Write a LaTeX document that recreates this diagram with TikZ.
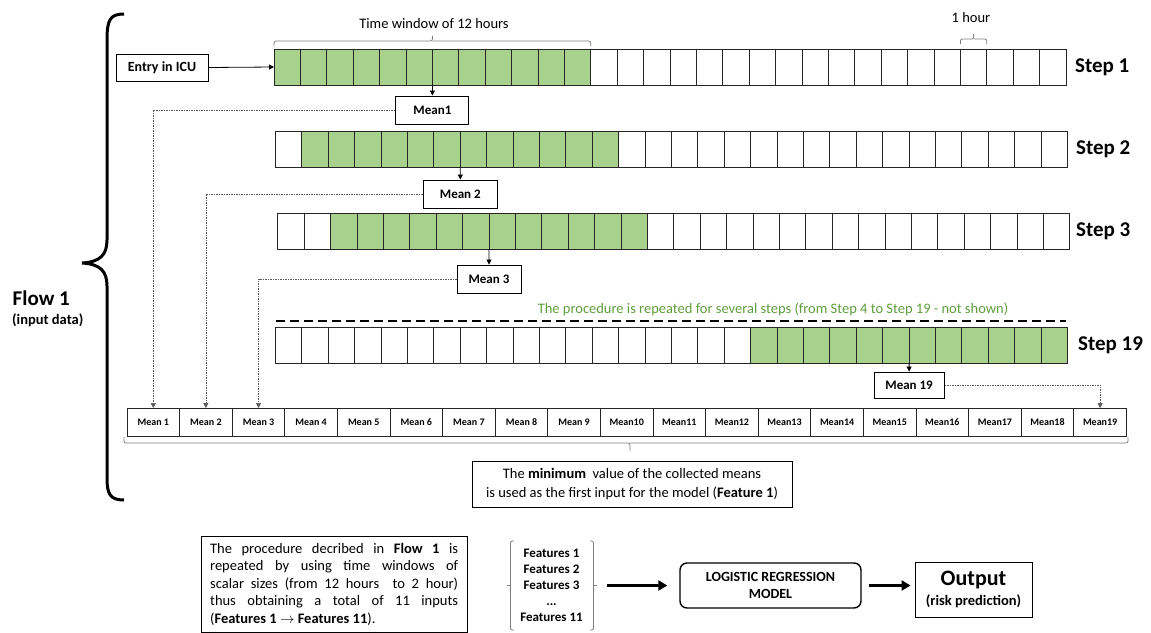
\documentclass[tikz,border=0pt]{standalone}
\usepackage{fontspec}
\setmainfont{Carlito}
\usetikzlibrary{arrows.meta}
\definecolor{gfill}{RGB}{169,209,142}
\definecolor{gtext}{RGB}{96,158,62}
\definecolor{lgray}{RGB}{125,125,125}
\tikzset{
 cellbox/.style={draw=black!85, line width=0.9pt, minimum width=26.4pt, minimum height=36pt, inner sep=0pt, outer sep=0pt},
 meanrow/.style={draw=black!85, line width=0.9pt, minimum width=52.6pt, minimum height=28pt, inner sep=0pt, outer sep=0pt, font=\fontsize{10}{12}\selectfont\bfseries},
 meanbox/.style={draw, line width=0.9pt, minimum height=28pt, inner sep=0pt, font=\fontsize{13}{15}\selectfont\bfseries},
 steplabel/.style={anchor=west, font=\fontsize{21}{25}\selectfont\bfseries, inner sep=0pt},
 tip/.style={-{Triangle[length=5pt,width=5pt]}},
 dotconn/.style={tip, draw=black!65, line width=0.6pt, dash pattern=on 1.5pt off 1pt},
 bigarrow/.style={-{Triangle[length=9pt,width=10pt]}, line width=3pt},
 thinbrace/.style={draw=lgray, line width=0.8pt, rounded corners=2pt},
 txt/.style={font=\fontsize{14.5}{18}\selectfont, inner sep=0pt},
}
\newcommand{\cellrow}[5]{%
  \foreach \i in {0,...,29}{%
    \ifnum\i<#4 \def\fc{white}\else\ifnum\i>#5 \def\fc{white}\else\def\fc{gfill}\fi\fi
    \node[cellbox, fill=\fc] (#1c\i) at ({#2+26.4*\i+13.2},#3) {};
  }}
\begin{document}
\begin{tikzpicture}[x=1pt,y=-1pt]
\fill[white] (0,0) rectangle (1151,632);
\useasboundingbox (0,0) rectangle (1151,632);

% big left brace
\draw[line width=3pt] (124,14) .. controls (110,14) and (107,20) .. (107,40) -- (107,240)
  .. controls (107,255) and (100,262) .. (82,263) .. controls (100,264) and (107,271) .. (107,286)
  -- (107,478) .. controls (107,494) and (110,500) .. (124,500);
\node[anchor=west, font=\fontsize{21}{25}\selectfont\bfseries, inner sep=0pt] (flow) at (12.5,298) {Flow 1};
\node[anchor=west, font=\fontsize{14.5}{17}\selectfont\bfseries, inner sep=0pt] (inp) at (12,320.5) {(input data)};

% rows
\cellrow{sa}{274}{67}{0}{11}
\cellrow{sb}{275.5}{149}{1}{12}
\cellrow{sc}{277.8}{231}{2}{13}
\cellrow{sd}{275.5}{345}{18}{29}

\node[steplabel] (st1) at (1075,67) {Step 1};
\node[steplabel] (st2) at (1076,149) {Step 2};
\node[steplabel] (st3) at (1076,231) {Step 3};
\node[steplabel] (st19) at (1078,345) {Step 19};

% entry
\node[draw, line width=0.9pt, minimum width=92pt, minimum height=27pt, inner sep=0pt,
  font=\fontsize{14}{16}\selectfont\bfseries] (entry) at (162,67.5) {Entry in ICU};
\draw[tip, line width=0.8pt] (entry.east) -- (sac0.west);

% braces top
\draw[thinbrace] (274,46) -- (274,41) -- (432.4,41) -- (432.4,36);
\draw[thinbrace] (432.4,41) -- (590.8,41) -- (590.8,46);
\node[txt] (tw) at (434,24) {Time window of 12 hours};
\draw[thinbrace] (960.4,44) -- (960.4,39) -- (973.6,39) -- (973.6,34);
\draw[thinbrace] (973.6,39) -- (986.8,39) -- (986.8,44);
\node[txt] (oneh) at (971,18) {1 hour};

% mean boxes
\node[meanbox, minimum width=73pt] (m1) at (432.4,110) {Mean1};
\node[meanbox, minimum width=74pt] (m2) at (460.3,194) {Mean 2};
\node[meanbox, minimum width=64pt] (m3) at (489,279) {Mean 3};
\node[meanbox, minimum width=70pt, minimum height=26pt] (m19) at (909.1,385) {Mean 19};
\draw[tip, line width=0.8pt] (sac6.south west) -- (m1.north);
\draw[tip, line width=0.8pt] (sbc7.south west) -- (m2.north);
\draw[tip, line width=0.8pt] (scc8.south west) -- (m3.north);
\draw[tip, line width=0.8pt] (sdc24.south west) -- (m19.north);

% repeated text and dashed line
\node[txt, text=gtext] (rep) at (773,309) {The procedure is repeated for several steps (from Step 4 to Step 19 - not shown)};
\draw[line width=2pt, dash pattern=on 9pt off 5pt] (276,321) -- (1066,321);

% mean row
\foreach \i in {1,...,19}{%
  \node[meanrow] (mr\i) at ({127+52.6*(\i-0.5)},422) {\ifnum\i<10 Mean \i\else Mean\i\fi};
}
\draw[dotconn] (m1.west) -| (mr1.north);
\draw[dotconn] (m2.west) -| (mr2.north);
\draw[dotconn] (m3.west) -| (mr3.north);
\draw[dotconn] (m19.east) -| (mr19.north);

% brace under mean row
\draw[thinbrace] (124,437) -- (124,443) -- (630,443) -- (630,451);
\draw[thinbrace] (630,443) -- (1128,443) -- (1128,437);
\node[draw, line width=0.9pt, minimum width=320pt, minimum height=46pt, align=center,
  font=\fontsize{14.5}{19}\selectfont, inner sep=0pt] (minbox) at (632,484)
  {The \textbf{minimum}\ \ value of the collected means\\is used as the first input for the model (\textbf{Feature 1})};

% bottom description
\node[draw, line width=0.9pt, anchor=north west, text width=248pt, align=justify, inner xsep=9pt, inner ysep=6pt,
  minimum height=96pt, font=\fontsize{14.5}{17.5}\selectfont] (desc) at (200.7,535.7)
  {\hyphenpenalty=10000 The procedure decribed in \textbf{Flow 1} is\linebreak
   repeated by using time windows of\linebreak
   scalar sizes (from 12 hours\ \ to 2 hour)\linebreak
   thus obtaining a total of 11 inputs\linebreak
   (\textbf{Features 1 $\rightarrow$ Features 11}).};

% features
\node[align=center, font=\fontsize{13}{16}\selectfont\bfseries, inner sep=0pt] (feat) at (551.5,585)
  {Features 1\\Features 2\\Features 3\\...\\Features 11};
\draw[thinbrace] (514,541) -- (510.5,541) -- (510.5,630) -- (514,630);
\draw[thinbrace] (510.5,585) -- (507,585);
\draw[thinbrace] (590,541) -- (593.5,541) -- (593.5,630) -- (590,630);
\draw[thinbrace] (593.5,585) -- (597,585);

% model and output
\node[draw, rounded corners=7pt, line width=1.4pt, minimum width=181pt, minimum height=45pt, align=center,
  inner sep=0pt, font=\fontsize{14}{17}\selectfont\bfseries] (lr) at (770.5,585.5) {LOGISTIC REGRESSION\\MODEL};
\node[draw, line width=0.9pt, minimum width=117pt, minimum height=55pt, align=center, inner sep=0pt] (out) at (973.5,589.5)
  {{\fontsize{22}{24}\selectfont\bfseries Output}\\[4pt]{\fontsize{14.5}{16}\selectfont\bfseries (risk prediction)}};
\coordinate (fa) at (607,585.5);
\draw[bigarrow] (fa) -- ([xshift=-12pt]lr.west);
\draw[bigarrow] ([xshift=7pt]lr.east) -- ([xshift=-4pt]lr.east -| out.west);
\end{tikzpicture}
\end{document}
